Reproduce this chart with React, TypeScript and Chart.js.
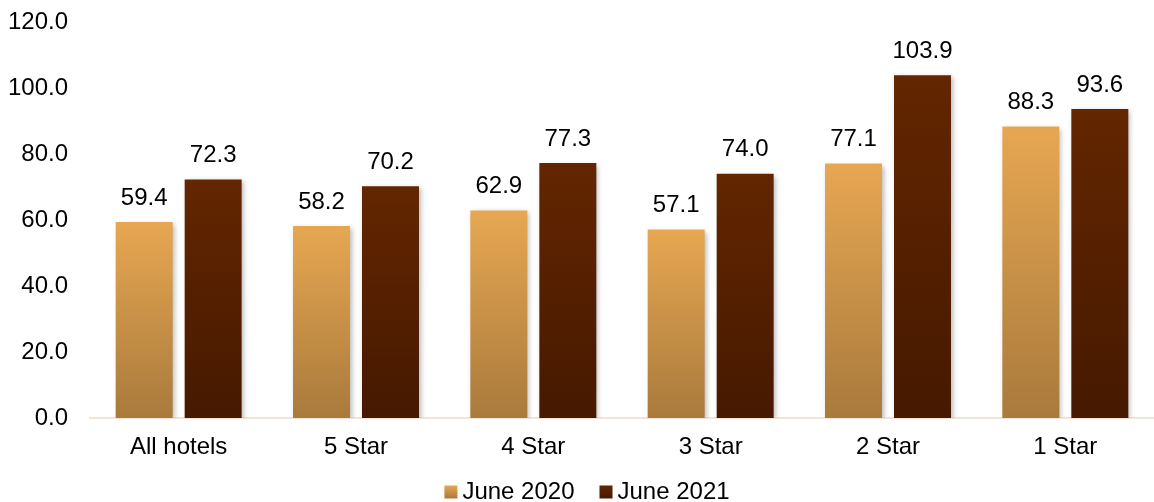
import React, { useEffect, useRef } from 'react';
import { Chart, registerables } from 'chart.js';

Chart.register(...registerables);

const categories = ['All hotels', '5 Star', '4 Star', '3 Star', '2 Star', '1 Star'];
const seriesNames = ['June 2020', 'June 2021'];
const june2020 = [59.4, 58.2, 62.9, 57.1, 77.1, 88.3];
const june2021 = [72.3, 70.2, 77.3, 74.0, 103.9, 93.6];
const yMin = 0;
const yMax = 120;
const yStep = 20;

const FONT = '"Liberation Sans", Arial, Helvetica, sans-serif';
const FONT_SIZE = 24;
const gradStops = [
  ['#E7A752', '#A97A3C'],
  ['#632600', '#461900'],
];

function barGradient(ctx: any, idx: number) {
  const chart = ctx.chart;
  const area = chart.chartArea;
  const stops = gradStops[idx];
  if (!area || ctx.type !== 'data') return stops[0];
  const y = chart.scales.y;
  const v = ctx.raw as number;
  const top = y.getPixelForValue(v);
  const bot = y.getPixelForValue(0);
  const g = chart.ctx.createLinearGradient(0, top, 0, bot);
  g.addColorStop(0, stops[0]);
  g.addColorStop(1, stops[1]);
  return g;
}

const decorPlugin = {
  id: 'decor',
  beforeDatasetsDraw(chart: any) {
    const c = chart.ctx;
    c.save();
    c.shadowColor = 'rgba(0,0,0,0.28)';
    c.shadowBlur = 5;
    c.shadowOffsetX = 2;
    c.shadowOffsetY = 2;
  },
  afterDatasetsDraw(chart: any) {
    const c = chart.ctx;
    c.restore();
    c.save();
    c.font = `${FONT_SIZE}px ${FONT}`;
    c.fillStyle = '#000';
    c.textAlign = 'center';
    c.textBaseline = 'middle';
    chart.data.datasets.forEach((ds: any, di: number) => {
      const meta = chart.getDatasetMeta(di);
      meta.data.forEach((el: any, i: number) => {
        const v = ds.data[i] as number;
        c.fillText(v.toFixed(1), el.x, el.y - 24);
      });
    });
    c.restore();
  },
  afterDraw(chart: any) {
    const c = chart.ctx;
    c.save();
    c.font = `${FONT_SIZE}px ${FONT}`;
    const box = 13;
    const gap = 5;
    const spacing = 25;
    const widths = seriesNames.map((n) => c.measureText(n).width);
    const total = widths.reduce((a, w) => a + box + gap + w, 0) + spacing * (seriesNames.length - 1);
    let x = 587 - total / 2;
    const yc = 492;
    seriesNames.forEach((name, i) => {
      const g = c.createLinearGradient(0, yc - box / 2, 0, yc + box / 2);
      g.addColorStop(0, gradStops[i][0]);
      g.addColorStop(1, gradStops[i][1]);
      c.fillStyle = g;
      c.fillRect(x, yc - box / 2, box, box);
      x += box + gap;
      c.fillStyle = '#000';
      c.textAlign = 'left';
      c.textBaseline = 'middle';
      c.fillText(name, x, yc);
      x += widths[i] + spacing;
    });
    c.restore();
  },
};

export default function App() {
  const ref = useRef<HTMLCanvasElement>(null);
  useEffect(() => {
    if (!ref.current) return;
    const chart = new Chart(ref.current, {
      type: 'bar',
      data: {
        labels: categories,
        datasets: [
          {
            label: seriesNames[0],
            data: june2020,
            backgroundColor: (ctx: any) => barGradient(ctx, 0),
            borderWidth: 0,
          },
          {
            label: seriesNames[1],
            data: june2021,
            backgroundColor: (ctx: any) => barGradient(ctx, 1),
            borderWidth: 0,
          },
        ],
      },
      options: {
        animation: false,
        responsive: true,
        maintainAspectRatio: false,
        layout: { padding: { top: 22, right: 0, bottom: 0, left: 0 } },
        datasets: {
          bar: { categoryPercentage: 0.778, barPercentage: 0.826 },
        },
        plugins: {
          legend: { display: false },
          tooltip: { enabled: false },
        },
        scales: {
          x: {
            grid: { display: false, drawTicks: false },
            border: { display: true, color: '#F3E4D6', width: 2 },
            ticks: {
              color: '#000',
              font: { family: FONT, size: FONT_SIZE },
              padding: 15,
              maxRotation: 0,
              autoSkip: false,
            },
            afterFit: (s: any) => {
              s.height = 84;
              s.paddingLeft = 0;
              s.paddingRight = 0;
            },
          },
          y: {
            min: yMin,
            max: yMax,
            grid: { display: false, drawTicks: false },
            border: { display: false },
            ticks: {
              stepSize: yStep,
              color: '#000',
              font: { family: FONT, size: FONT_SIZE },
              padding: 22,
              callback: (v: any) => Number(v).toFixed(1),
            },
            afterFit: (s: any) => {
              s.width = 90;
              s.paddingTop = 0;
              s.paddingBottom = 0;
            },
          },
        },
      },
      plugins: [decorPlugin],
    });
    return () => chart.destroy();
  }, []);
  return (
    <div style={{ position: 'absolute', left: 0, top: 0, width: 1154, height: 502, background: '#fff' }}>
      <canvas ref={ref} />
    </div>
  );
}
